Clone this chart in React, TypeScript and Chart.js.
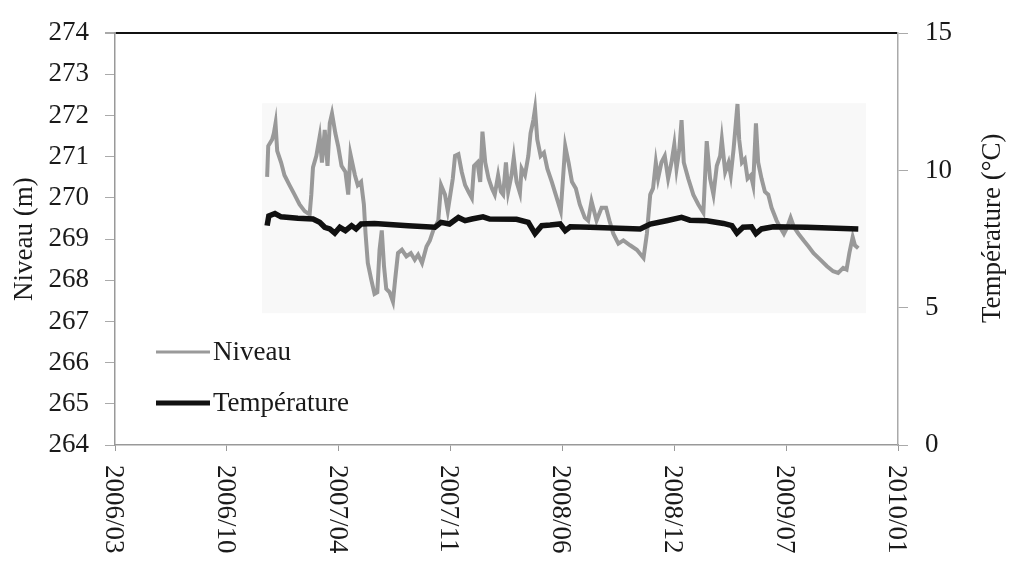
import React, { useEffect, useRef } from "react";
import { Chart, registerables } from "chart.js";

Chart.register(...registerables);

// X axis: days since 2006/03 start; one tick every 200 days
const xTickLabels = ["2006/03", "2006/10", "2007/04", "2007/11", "2008/06", "2008/12", "2009/07", "2010/01"];
const xTickStep = 200;

const niveauDays = [
  272, 274, 281, 284, 287, 290, 297, 303, 312, 321, 330, 339, 348, 351, 354, 360, 366, 370, 375, 380,
  384, 388, 394, 399, 405, 412, 417, 421, 429, 434, 440, 445, 448, 452, 458, 464, 469, 473, 477, 481,
  485, 491, 497, 501, 506, 513, 521, 529, 536, 542, 549, 557, 563, 569, 578, 583, 590, 595, 604, 608,
  614, 620, 626, 632, 638, 642, 648, 653, 657, 662, 668, 674, 679, 685, 690, 694, 699, 703, 709, 713,
  718, 724, 727, 733, 739, 743, 748, 751, 755, 761, 767, 773, 781, 788, 797, 805, 811, 817, 824, 831,
  840, 846, 852, 861, 870, 878, 884, 891, 900, 909, 921, 933, 945, 951, 957, 962, 967, 971, 977, 983,
  989, 995, 1000, 1004, 1009, 1013, 1017, 1025, 1034, 1043, 1052, 1058, 1064, 1070, 1076, 1082, 1085, 1091, 1097, 1101,
  1106, 1109, 1113, 1116, 1121, 1126, 1131, 1137, 1141, 1146, 1150, 1156, 1162, 1168, 1174, 1183, 1189, 1196, 1202, 1208,
  1214, 1222, 1231, 1240, 1249, 1261, 1273, 1284, 1293, 1302, 1308, 1313, 1319, 1323, 1329,
];
const niveauValues = [
  270.51, 271.26, 271.42, 271.57, 271.81, 271.14, 270.86, 270.55, 270.31, 270.08, 269.84, 269.68, 269.60, 270.08, 270.74, 271.02, 271.49, 270.86, 271.65, 270.78,
  271.81, 272.05, 271.57, 271.26, 270.78, 270.63, 270.08, 271.06, 270.55, 270.31, 270.39, 269.84, 269.13, 268.42, 268.03, 267.67, 267.71, 268.74, 269.21, 268.34,
  267.79, 267.71, 267.48, 268.03, 268.66, 268.74, 268.58, 268.66, 268.50, 268.62, 268.42, 268.82, 268.97, 269.21, 269.45, 270.31, 270.08, 269.68, 270.47, 271.02,
  271.06, 270.63, 270.31, 270.15, 270.00, 270.78, 270.86, 270.39, 271.61, 270.86, 270.47, 270.23, 270.08, 270.55, 270.15, 270.08, 270.86, 270.15, 270.55, 270.98,
  270.39, 270.12, 270.71, 270.55, 271.02, 271.57, 271.89, 272.16, 271.42, 271.02, 271.10, 270.71, 270.39, 270.08, 269.68, 271.26, 270.86, 270.39, 270.23, 269.84,
  269.52, 269.45, 269.92, 269.45, 269.76, 269.76, 269.45, 269.13, 268.89, 268.97, 268.85, 268.74, 268.54, 269.13, 270.08, 270.23, 270.86, 270.47, 270.86, 271.02,
  270.47, 270.86, 271.30, 270.71, 271.18, 271.89, 270.86, 270.47, 270.08, 269.84, 269.64, 271.38, 270.47, 270.08, 270.78, 271.02, 271.42, 270.63, 270.86, 270.55,
  271.18, 271.65, 272.28, 271.42, 270.86, 270.94, 270.47, 270.55, 270.31, 271.81, 270.86, 270.47, 270.15, 270.08, 269.76, 269.45, 269.29, 269.13, 269.29, 269.52,
  269.29, 269.13, 268.97, 268.82, 268.66, 268.50, 268.34, 268.22, 268.18, 268.30, 268.26, 268.66, 269.05, 268.85, 268.78,
];

const tempDays = [
  272, 275, 286, 297, 327, 354, 366, 375, 384, 393, 402, 412, 423, 431, 440, 464, 524, 572, 583, 598,
  614, 626, 638, 658, 670, 718, 739, 751, 763, 778, 796, 805, 814, 849, 939, 957, 986, 1013, 1028, 1058,
  1088, 1103, 1112, 1123, 1138, 1146, 1156, 1177, 1237, 1329,
];
const tempValues = [
  7.99, 8.34, 8.43, 8.31, 8.26, 8.23, 8.11, 7.93, 7.87, 7.72, 7.93, 7.81, 7.99, 7.87, 8.05, 8.07, 7.99, 7.93, 8.11, 8.05,
  8.29, 8.17, 8.23, 8.31, 8.23, 8.22, 8.11, 7.70, 7.99, 8.01, 8.05, 7.81, 7.95, 7.93, 7.87, 8.05, 8.17, 8.29, 8.19, 8.17,
  8.07, 7.99, 7.72, 7.93, 7.95, 7.70, 7.87, 7.95, 7.93, 7.87,
];

const seriesNames = ["Niveau", "Température"];
const rightAxisTitle = "Température (°C)";
const FONT = "'Liberation Serif', 'Times New Roman', serif";

export default function App() {
  const canvasRef = useRef<HTMLCanvasElement | null>(null);

  useEffect(() => {
    const canvas = canvasRef.current;
    if (!canvas) return;

    const bgPlugin = {
      id: "bgShade",
      beforeDatasetsDraw(chart: any) {
        const { ctx, scales } = chart;
        const x = scales.x, y = scales.y;
        const x0 = x.getPixelForValue(263), x1 = x.getPixelForValue(1343);
        const y0 = y.getPixelForValue(272.3), y1 = y.getPixelForValue(267.2);
        ctx.save();
        ctx.fillStyle = "#f8f8f8";
        ctx.fillRect(x0, y0, x1 - x0, y1 - y0);
        ctx.restore();
      },
    };

    const labelsPlugin = {
      id: "xLabelsAndLegend",
      afterDraw(chart: any) {
        const { ctx, scales, chartArea } = chart;
        const x = scales.x;
        ctx.save();
        ctx.font = `27px ${FONT}`;
        ctx.fillStyle = "#1a1a1a";
        ctx.textAlign = "left";
        ctx.textBaseline = "middle";
        xTickLabels.forEach((lab, i) => {
          const px = x.getPixelForValue(i * xTickStep);
          ctx.save();
          ctx.translate(px - 2, chartArea.bottom + 20);
          ctx.rotate(Math.PI / 2);
          ctx.fillText(lab, 0, 0);
          ctx.restore();
        });
        // right axis title, reading bottom to top
        ctx.save();
        ctx.translate(chartArea.right + 95, chartArea.top + 195);
        ctx.rotate(-Math.PI / 2);
        ctx.textAlign = "center";
        ctx.fillText(rightAxisTitle, 0, 0);
        ctx.restore();
        // legend
        const items = [
          { name: seriesNames[0], color: "#9a9a9a", width: 3, dy: 352 },
          { name: seriesNames[1], color: "#111111", width: 5, dy: 403 },
        ];
        items.forEach((it) => {
          ctx.beginPath();
          ctx.strokeStyle = it.color;
          ctx.lineWidth = it.width;
          ctx.moveTo(chartArea.left + 41, it.dy);
          ctx.lineTo(chartArea.left + 95, it.dy);
          ctx.stroke();
          ctx.fillStyle = "#1a1a1a";
          ctx.fillText(it.name, chartArea.left + 98, it.dy + 1);
        });
        ctx.restore();
      },
    };

    const chart = new Chart(canvas, {
      type: "line",
      data: {
        datasets: [
          {
            label: seriesNames[0],
            data: niveauDays.map((d, i) => ({ x: d, y: niveauValues[i] })),
            borderColor: "#999999",
            borderWidth: 4,
            pointRadius: 0,
            tension: 0,
            yAxisID: "y",
            order: 2,
          },
          {
            label: seriesNames[1],
            data: tempDays.map((d, i) => ({ x: d, y: tempValues[i] })),
            borderColor: "#111111",
            borderWidth: 5.5,
            pointRadius: 0,
            tension: 0,
            yAxisID: "y1",
            order: 1,
          },
        ],
      },
      options: {
        responsive: false,
        animation: false,
        layout: { padding: { top: 22, left: 0, right: 0, bottom: 0 } },
        plugins: { legend: { display: false }, tooltip: { enabled: false } },
        scales: {
          x: {
            type: "linear",
            min: 0,
            max: xTickStep * (xTickLabels.length - 1),
            ticks: { stepSize: xTickStep, display: false },
            grid: { drawOnChartArea: false, drawTicks: true, tickLength: 6, tickColor: "#999" },
            border: { color: "#999", width: 1.5 },
            afterFit(scale: any) {
              scale.height = 119;
            },
          },
          y: {
            type: "linear",
            position: "left",
            min: 264,
            max: 274,
            ticks: { stepSize: 1, font: { family: FONT, size: 27 }, color: "#1a1a1a", padding: 16 },
            grid: {
              drawOnChartArea: true,
              drawTicks: true,
              tickLength: 10,
              tickColor: "#aaa",
              color: (c: any) => (c.tick && c.tick.value === 274 ? "#111" : "rgba(0,0,0,0)"),
              lineWidth: (c: any) => (c.tick && c.tick.value === 274 ? 2 : 1),
            },
            border: { color: "#999", width: 1.5 },
            title: {
              display: true,
              text: "Niveau (m)",
              font: { family: FONT, size: 27 },
              color: "#1a1a1a",
              padding: { top: 9, bottom: 0 },
            },
            afterFit(scale: any) {
              scale.width = 115;
            },
          },
          y1: {
            type: "linear",
            position: "right",
            min: 0,
            max: 15,
            ticks: { stepSize: 5, font: { family: FONT, size: 27 }, color: "#1a1a1a", padding: 17 },
            grid: { drawOnChartArea: false, drawTicks: true, tickLength: 10, tickColor: "#aaa" },
            border: { color: "#aaa", width: 1.5 },
            title: { display: false },
            afterFit(scale: any) {
              scale.width = 113;
            },
          },
        },
      },
      plugins: [bgPlugin, labelsPlugin],
    } as any);

    return () => chart.destroy();
  }, []);

  return (
    <div style={{ position: "fixed", left: 0, top: 0, width: 1011, height: 564, background: "#fff" }}>
      <canvas ref={canvasRef} width={1011} height={564} style={{ width: 1011, height: 564 }} />
    </div>
  );
}
